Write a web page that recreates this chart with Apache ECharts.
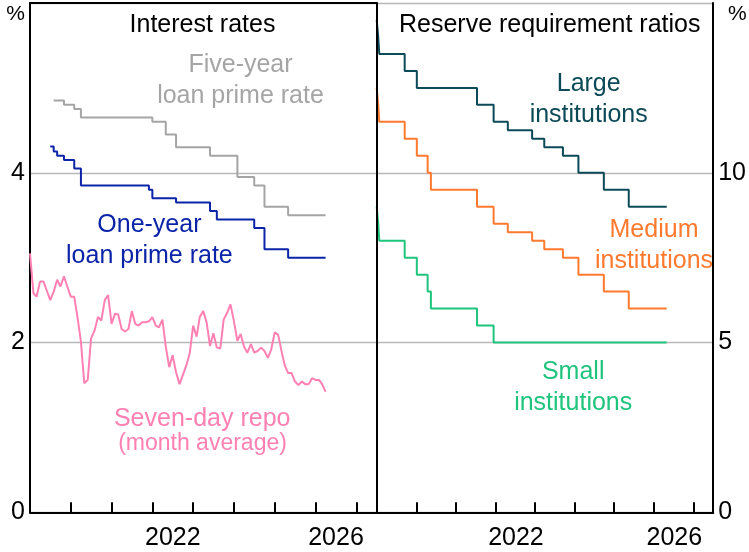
<!DOCTYPE html>
<html>
<head>
<meta charset="utf-8">
<script src="https://cdn.jsdelivr.net/npm/echarts@6/dist/echarts.min.js"></script>
<style>
  html, body { margin: 0; padding: 0; background: #fff; }
  #chart { width: 749px; height: 552px; }
</style>
</head>
<body>
<div id="chart"></div>
<script>
// Loan prime rates (%), dated from the month each rate took effect; last entry carries the rate to the end
const lpr1Dates = ['2019-07-01','2019-08-01','2019-09-01','2019-11-01','2020-02-01','2020-04-01','2021-12-01','2022-01-01','2022-08-01','2023-06-01','2023-08-01','2024-07-01','2024-10-01','2025-05-01','2026-04-01'];
const lpr1Values = [4.31, 4.25, 4.20, 4.15, 4.05, 3.85, 3.80, 3.70, 3.65, 3.55, 3.45, 3.35, 3.10, 3.00, 3.00];
const lpr5Dates = ['2019-08-01','2019-11-01','2020-02-01','2020-04-01','2022-01-01','2022-05-01','2022-08-01','2023-06-01','2024-02-01','2024-07-01','2024-10-01','2025-05-01','2026-04-01'];
const lpr5Values = [4.85, 4.80, 4.75, 4.65, 4.60, 4.45, 4.30, 4.20, 3.95, 3.85, 3.60, 3.50, 3.50];

// Seven-day repo rate, monthly averages (%), starting January 2019
const repoStart = [2019, 1];
const repoValues = [
  3.05, 2.58, 2.54, 2.72, 2.72, 2.61, 2.50, 2.60, 2.74, 2.66, 2.78, 2.66,
  2.54, 2.54, 2.30, 2.01, 1.52, 1.56, 2.05, 2.14, 2.30, 2.26, 2.50, 2.56,
  2.22, 2.34, 2.33, 2.16, 2.13, 2.16, 2.37, 2.22, 2.20, 2.24, 2.24, 2.25,
  2.30, 2.20, 2.18, 2.27, 1.95, 1.71, 1.85, 1.65, 1.51, 1.62, 1.73, 1.87,
  2.20, 2.07, 2.30, 2.37, 2.24, 1.96, 2.11, 1.94, 1.93, 2.27, 2.35, 2.45,
  2.25, 2.02, 2.10, 1.95, 1.88, 1.98, 1.88, 1.90, 1.94, 1.90, 1.82, 1.92,
  2.12, 2.09, 1.91, 1.73, 1.64, 1.64, 1.54, 1.50, 1.54, 1.51, 1.51, 1.58,
  1.56, 1.56, 1.51, 1.42
];

// Reserve requirement ratios (%), by institution size, at each change date
const rrrDates = ['2019-01-01','2019-01-15','2019-01-25','2019-09-16','2020-01-06','2020-04-15','2020-05-15','2021-07-15','2021-12-15','2022-04-25','2022-12-05','2023-03-27','2023-09-15','2024-02-05','2024-09-27','2025-05-15','2026-04-30'];
const rrrLarge  = [14.5, 14.0, 13.5, 13.0, 12.5, 12.5, 12.5, 12.0, 11.5, 11.25, 11.0, 10.75, 10.5, 10.0, 9.5, 9.0, 9.0];
const rrrMedium = [12.5, 12.0, 11.5, 11.0, 10.5, 10.0, 9.5, 9.0, 8.5, 8.25, 8.0, 7.75, 7.5, 7.0, 6.5, 6.0, 6.0];
const rrrSmall  = [9.0, 8.5, 8.0, 7.5, 7.0, 6.5, 6.0, 5.5, 5.0, 5.0, 5.0, 5.0, 5.0, 5.0, 5.0, 5.0, 5.0];

// Axis tick labels
const yearLabels = [2022, 2026];
const leftTicks = [0, 2, 4];
const rightTicks = [0, 5, 10];

// Converts a calendar date to a fractional year
function fracYear(y, m, d) {
  const t = Date.UTC(y, m - 1, d), a = Date.UTC(y, 0, 1), b = Date.UTC(y + 1, 0, 1);
  return y + (t - a) / (b - a);
}
function parseDate(s) {
  const p = s.split('-').map(Number);
  return fracYear(p[0], p[1], p[2]);
}
function zip(dates, values) {
  return dates.map((d, i) => [parseDate(d), values[i]]);
}
const repoData = repoValues.map((v, i) => {
  const idx = repoStart[1] - 1 + i;
  return [fracYear(repoStart[0] + Math.floor(idx / 12), (idx % 12) + 1, 1), v];
});

const FONT = '"Liberation Sans", Arial, sans-serif';
const BLACK = '#000';
const GRID_GREY = '#b8b8b8';
const C_LPR5 = '#a5a5a5';
const C_LPR1 = '#0b24a8';
const C_REPO = '#ff80b3';
const C_LARGE = '#0c4a57';
const C_MED = '#ff7a2e';
const C_SMALL = '#1fc47d';

function xAxisBottom(gridIndex) {
  return {
    type: 'value', gridIndex, position: 'bottom', min: 2019, max: 2027.5, interval: 1, z: 5,
    axisLine: { show: true, lineStyle: { color: BLACK, width: 2 } },
    axisTick: { show: true, inside: true, length: 10, lineStyle: { color: BLACK, width: 2 } },
    axisLabel: {
      show: true, margin: 13, color: BLACK, fontSize: 25, fontFamily: FONT,
      padding: [0, 0, 0, 41],
      showMinLabel: true, showMaxLabel: true,
      formatter: v => (yearLabels.indexOf(v) >= 0 ? String(v) : '')
    },
    splitLine: { show: false }
  };
}
function xAxisTop(gridIndex) {
  return {
    type: 'value', gridIndex, position: 'top', min: 2019, max: 2027.5, interval: 1, z: 5,
    axisLine: { show: true, lineStyle: { color: BLACK, width: 2 } },
    axisTick: { show: false }, axisLabel: { show: false }, splitLine: { show: false }
  };
}
function stepSeries(xi, yi, data, color) {
  return {
    type: 'line', xAxisIndex: xi, yAxisIndex: yi, step: 'end', data,
    showSymbol: false, symbol: 'none', lineStyle: { color, width: 2 }, z: 3
  };
}
function label(text, x, y, color, size) {
  return {
    type: 'text', x, y, z: 10,
    style: {
      text, fill: color, fontSize: size || 25, fontFamily: FONT,
      align: 'center', verticalAlign: 'middle', lineHeight: 31
    }
  };
}

const chart = echarts.init(document.getElementById('chart'), null, { renderer: 'canvas' });
chart.setOption({
  animation: false,
  backgroundColor: '#fff',
  grid: [
    { left: 30, top: 3, right: 372.3, bottom: 39.7 },
    { left: 376.7, top: 3, right: 25.7, bottom: 39.7 }
  ],
  xAxis: [xAxisBottom(0), xAxisTop(0), xAxisBottom(1), xAxisTop(1)],
  yAxis: [
    {
      type: 'value', gridIndex: 0, position: 'left', min: 0, max: 6, interval: 2, z: 1,
      axisLine: { show: true, lineStyle: { color: BLACK, width: 2 } },
      axisTick: { show: false },
      axisLabel: {
        margin: 5, color: BLACK, fontSize: 25, fontFamily: FONT, showMinLabel: true,
        formatter: v => (leftTicks.indexOf(v) >= 0 ? String(v) : '')
      },
      splitLine: { show: true, lineStyle: { color: GRID_GREY, width: 1.3 } }
    },
    {
      type: 'value', gridIndex: 1, position: 'left', min: 0, max: 15, interval: 5, z: 5,
      axisLine: { show: true, lineStyle: { color: BLACK, width: 2 } },
      axisTick: { show: false }, axisLabel: { show: false }, splitLine: { show: false }
    },
    {
      type: 'value', gridIndex: 1, position: 'right', min: 0, max: 15, interval: 5, z: 1,
      axisLine: { show: true, lineStyle: { color: BLACK, width: 2 } },
      axisTick: { show: false },
      axisLabel: {
        margin: 5, color: BLACK, fontSize: 25, fontFamily: FONT, showMinLabel: true,
        formatter: v => (rightTicks.indexOf(v) >= 0 ? String(v) : '')
      },
      splitLine: { show: true, lineStyle: { color: GRID_GREY, width: 1.3 } }
    }
  ],
  series: [
    stepSeries(0, 0, zip(lpr5Dates, lpr5Values), C_LPR5),
    stepSeries(0, 0, zip(lpr1Dates, lpr1Values), C_LPR1),
    {
      type: 'line', xAxisIndex: 0, yAxisIndex: 0, data: repoData,
      showSymbol: false, symbol: 'none', lineStyle: { color: C_REPO, width: 2 }, z: 3
    },
    stepSeries(2, 2, zip(rrrDates, rrrLarge), C_LARGE),
    stepSeries(2, 2, zip(rrrDates, rrrMedium), C_MED),
    stepSeries(2, 2, zip(rrrDates, rrrSmall), C_SMALL)
  ],
  graphic: [
    { type: 'text', x: 25, y: 14, style: { text: '%', fill: BLACK, fontSize: 21, fontFamily: FONT, align: 'right', verticalAlign: 'middle' } },
    { type: 'text', x: 728, y: 14, style: { text: '%', fill: BLACK, fontSize: 21, fontFamily: FONT, align: 'left', verticalAlign: 'middle' } },
    label('Interest rates', 202.5, 25.5, BLACK),
    label('Reserve requirement ratios', 549.7, 25.5, BLACK),
    label('Five-year\nloan prime rate', 240.5, 80.8, C_LPR5),
    label('One-year\nloan prime rate', 149.4, 240.8, C_LPR1),
    label('Seven-day repo', 202.2, 418.7, C_REPO),
    label('(month average)', 202.5, 444, C_REPO, 23),
    label('Large\ninstitutions', 588.7, 99.5, C_LARGE),
    label('Medium\ninstitutions', 654, 246, C_MED),
    label('Small\ninstitutions', 573.2, 388, C_SMALL)
  ]
});
</script>
</body>
</html>
